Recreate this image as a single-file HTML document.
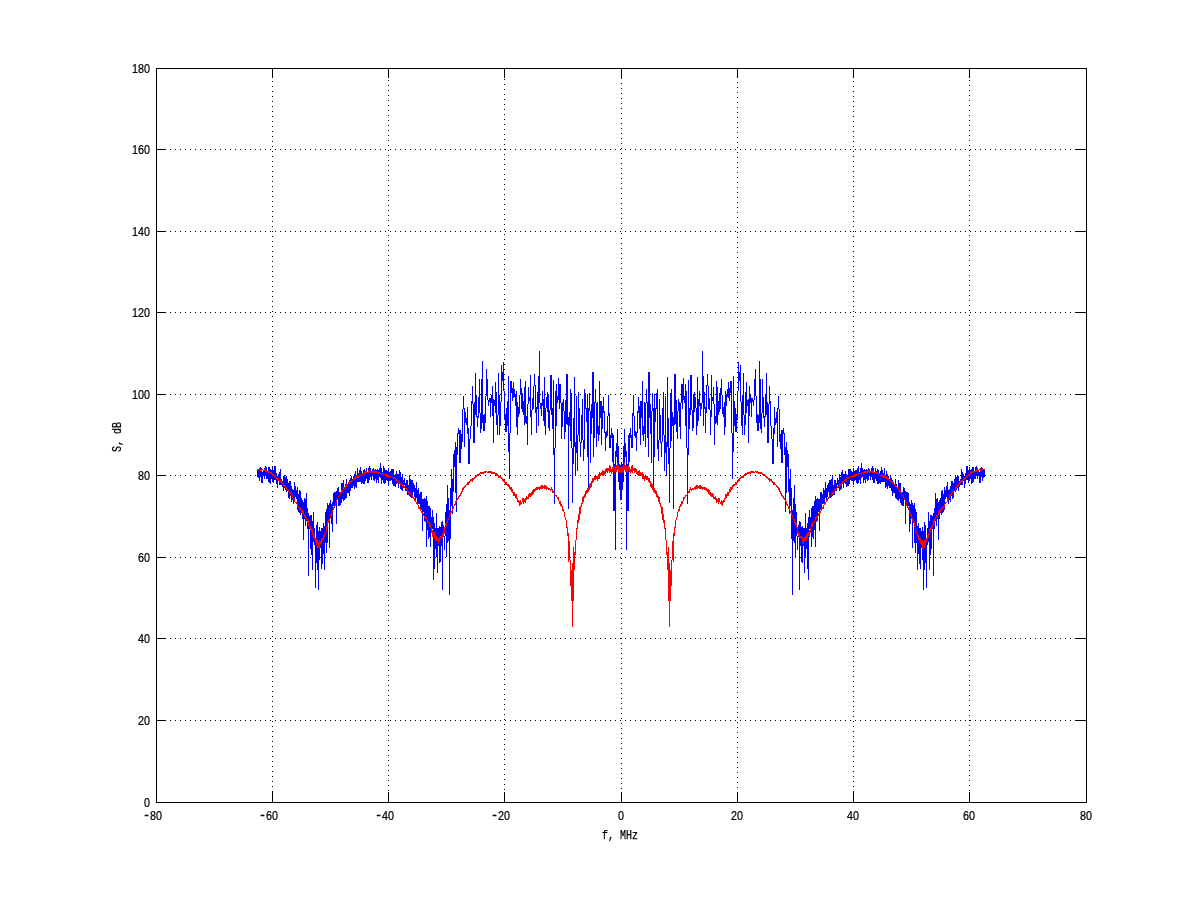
<!DOCTYPE html>
<html lang="en"><head><meta charset="utf-8"><title>Spectrum S, dB vs f, MHz</title>
<style>html,body{margin:0;padding:0;background:#fff}body{width:1200px;height:901px;overflow:hidden}svg{display:block}text{font-family:"Liberation Mono","DejaVu Sans Mono",monospace;font-size:13px;fill:#000;stroke:#000;stroke-width:0.25px}.n{font-family:"Liberation Sans","DejaVu Sans",sans-serif}</style></head><body>
<svg width="1200" height="901" viewBox="0 0 1200 901">
<rect x="0" y="0" width="1200" height="901" fill="#fff"/>
<g stroke="#000" stroke-width="1" shape-rendering="crispEdges" fill="none">
<line x1="272.5" y1="71" x2="272.5" y2="802" stroke-dasharray="1 4"/>
<line x1="388.5" y1="70" x2="388.5" y2="802" stroke-dasharray="1 4"/>
<line x1="504.5" y1="74" x2="504.5" y2="802" stroke-dasharray="1 4"/>
<line x1="621.5" y1="73" x2="621.5" y2="802" stroke-dasharray="1 4"/>
<line x1="737.5" y1="72" x2="737.5" y2="802" stroke-dasharray="1 4"/>
<line x1="853.5" y1="71" x2="853.5" y2="802" stroke-dasharray="1 4"/>
<line x1="969.5" y1="70" x2="969.5" y2="802" stroke-dasharray="1 4"/>
<line x1="160" y1="720.5" x2="1086" y2="720.5" stroke-dasharray="1 4"/>
<line x1="160" y1="638.5" x2="1086" y2="638.5" stroke-dasharray="1 4"/>
<line x1="160" y1="557.5" x2="1086" y2="557.5" stroke-dasharray="1 4"/>
<line x1="160" y1="475.5" x2="1086" y2="475.5" stroke-dasharray="1 4"/>
<line x1="160" y1="394.5" x2="1086" y2="394.5" stroke-dasharray="1 4"/>
<line x1="160" y1="312.5" x2="1086" y2="312.5" stroke-dasharray="1 4"/>
<line x1="160" y1="231.5" x2="1086" y2="231.5" stroke-dasharray="1 4"/>
<line x1="160" y1="149.5" x2="1086" y2="149.5" stroke-dasharray="1 4"/>
</g>
<g fill="none" stroke-width="1" shape-rendering="crispEdges">
<path stroke="#0000ff" d="M257.5 470v7M258.5 470v8M259.5 468v13M260.5 467v10M261.5 468v15M262.5 472v11M263.5 470v6M264.5 468v11M265.5 466v10M266.5 467v12M267.5 472v7M268.5 467v15M269.5 467v16M270.5 469v15M271.5 470v9M272.5 467v14M273.5 470v13M274.5 466v14M275.5 466v14M276.5 473v11M277.5 476v12M278.5 474v7M279.5 472v13M280.5 469v16M281.5 479v6M282.5 481v6M283.5 476v15M284.5 475v13M285.5 477v13M286.5 476v16M287.5 479v12M288.5 483v15M289.5 481v18M290.5 481v15M291.5 486v16M292.5 489v11M293.5 490v14M294.5 482v17M295.5 486v11M296.5 490v9M297.5 487v23M298.5 494v18M299.5 490v23M300.5 491v24M301.5 498v15M302.5 500v19M303.5 502v38M304.5 498v21M305.5 499v27M306.5 493v28M307.5 508v21M308.5 513v63M309.5 516v13M310.5 515v34M311.5 515v40M312.5 521v49M313.5 512v30M314.5 528v17M315.5 540v48M316.5 525v38M317.5 522v48M318.5 531v59M319.5 527v33M320.5 531v17M321.5 528v41M322.5 528v36M323.5 523v31M324.5 526v44M325.5 512v31M326.5 509v44M327.5 503v40M328.5 505v18M329.5 503v45M330.5 500v15M331.5 504v20M332.5 502v30M333.5 493v13M334.5 492v16M335.5 492v14M336.5 491v33M337.5 488v10M338.5 487v19M339.5 492v14M340.5 492v13M341.5 483v20M342.5 483v16M343.5 480v21M344.5 487v13M345.5 484v15M346.5 479v19M347.5 486v7M348.5 482v11M349.5 480v16M350.5 478v13M351.5 476v12M352.5 479v9M353.5 476v10M354.5 474v15M355.5 471v16M356.5 475v13M357.5 468v14M358.5 473v9M359.5 470v12M360.5 467v15M361.5 471v13M362.5 473v10M363.5 470v14M364.5 469v15M365.5 471v10M366.5 468v11M367.5 472v11M368.5 468v15M369.5 466v14M370.5 468v9M371.5 471v9M372.5 469v7M373.5 468v12M374.5 470v11M375.5 469v10M376.5 470v13M377.5 469v11M378.5 470v13M379.5 468v9M380.5 463v15M381.5 468v16M382.5 472v8M383.5 466v17M384.5 468v16M385.5 470v13M386.5 470v10M387.5 471v10M388.5 468v17M389.5 472v9M390.5 471v10M391.5 469v11M392.5 469v15M393.5 469v17M394.5 475v11M395.5 474v13M396.5 471v13M397.5 474v9M398.5 474v14M399.5 470v14M400.5 472v17M401.5 477v13M402.5 474v17M403.5 480v8M404.5 478v7M405.5 483v8M406.5 480v11M407.5 480v15M408.5 485v10M409.5 475v21M410.5 479v18M411.5 480v18M412.5 480v17M413.5 483v9M414.5 485v12M415.5 488v12M416.5 482v16M417.5 490v14M418.5 488v16M419.5 494v10M420.5 492v19M421.5 492v18M422.5 499v32M423.5 499v13M424.5 498v23M425.5 499v23M426.5 496v51M427.5 501v29M428.5 506v33M429.5 506v31M430.5 508v39M431.5 517v14M432.5 510v19M433.5 517v63M434.5 523v46M435.5 528v21M436.5 513v44M437.5 528v45M438.5 528v18M439.5 526v37M440.5 527v35M441.5 522v24M442.5 521v69M443.5 525v12M444.5 536v14M445.5 512v24M446.5 504v53M447.5 485v58M448.5 498v43M449.5 510v85M450.5 488v51M451.5 469v37M452.5 479v35M453.5 454v38M454.5 450v17M455.5 442v51M456.5 447v65M457.5 433v22M458.5 428v6M459.5 430v33M460.5 430v33M461.5 434v15M462.5 409v33M463.5 396v13M464.5 408v39M465.5 412v11M466.5 418v7M467.5 407v27M468.5 428v36M469.5 439v25M470.5 426v13M471.5 401v25M472.5 386v18M473.5 404v39M474.5 402v41M475.5 373v42M476.5 395v22M477.5 416v11M478.5 397v21M479.5 379v34M480.5 413v20M481.5 379v50M482.5 361v62M483.5 415v16M484.5 414v17M485.5 396v27M486.5 369v27M487.5 379v21M488.5 400v6M489.5 398v4M490.5 398v19M491.5 395v8M492.5 386v30M493.5 399v44M494.5 400v6M495.5 382v31M496.5 392v33M497.5 415v20M498.5 373v42M499.5 395v40M500.5 402v24M501.5 365v37M502.5 372v9M503.5 362v29M504.5 391v29M505.5 414v18M506.5 408v24M507.5 401v25M508.5 376v76M509.5 433v46M510.5 381v52M511.5 381v12M512.5 388v13M513.5 382v16M514.5 389v8M515.5 394v12M516.5 391v36M517.5 402v33M518.5 407v10M519.5 395v19M520.5 379v16M521.5 388v21M522.5 393v19M523.5 401v14M524.5 387v38M525.5 381v42M526.5 416v8M527.5 404v41M528.5 387v17M529.5 397v4M530.5 375v42M531.5 410v25M532.5 398v12M533.5 386v23M534.5 374v12M535.5 385v28M536.5 407v26M537.5 392v17M538.5 376v50M539.5 351v52M540.5 403v6M541.5 403v13M542.5 391v15M543.5 399v22M544.5 377v49M545.5 408v27M546.5 397v11M547.5 392v20M548.5 394v34M549.5 410v21M550.5 375v35M551.5 375v40M552.5 408v21M553.5 380v75M554.5 448v56M555.5 391v57M556.5 384v42M557.5 396v7M558.5 378v22M559.5 384v25M560.5 384v19M561.5 403v36M562.5 402v25M563.5 399v12M564.5 411v28M565.5 400v32M566.5 374v50M567.5 374v51M568.5 417v92M569.5 412v14M570.5 389v52M571.5 393v55M572.5 448v55M573.5 418v46M574.5 377v70M575.5 442v34M576.5 396v57M577.5 435v36M578.5 392v43M579.5 408v34M580.5 442v15M581.5 415v28M582.5 399v41M583.5 440v21M584.5 389v60M585.5 393v16M586.5 408v14M587.5 394v63M588.5 408v80M589.5 393v18M590.5 411v52M591.5 404v30M592.5 372v46M593.5 372v85M594.5 402v36M595.5 389v14M596.5 403v44M597.5 402v32M598.5 426v15M599.5 381v54M600.5 401v17M601.5 401v44M602.5 406v23M603.5 397v16M604.5 411v22M605.5 432v19M606.5 431v7M607.5 416v20M608.5 395v21M609.5 413v35M610.5 435v13M611.5 428v10M612.5 433v29M613.5 435v76M614.5 464v47M615.5 451v99M616.5 443v14M617.5 429v36M618.5 446v36M619.5 464v26M620.5 465v35M621.5 462v38M622.5 464v26M623.5 446v36M624.5 429v36M625.5 443v14M626.5 451v99M627.5 464v47M628.5 435v76M629.5 433v29M630.5 428v10M631.5 435v13M632.5 413v35M633.5 395v21M634.5 416v20M635.5 431v7M636.5 432v19M637.5 411v22M638.5 397v16M639.5 406v23M640.5 401v44M641.5 401v17M642.5 381v54M643.5 426v15M644.5 402v32M645.5 403v44M646.5 389v14M647.5 402v36M648.5 372v85M649.5 372v46M650.5 404v30M651.5 411v52M652.5 393v18M653.5 408v80M654.5 394v63M655.5 408v14M656.5 393v16M657.5 389v60M658.5 440v21M659.5 399v41M660.5 415v28M661.5 442v15M662.5 408v34M663.5 392v43M664.5 435v36M665.5 396v57M666.5 442v34M667.5 377v70M668.5 418v46M669.5 448v55M670.5 393v55M671.5 389v52M672.5 412v14M673.5 417v92M674.5 374v51M675.5 374v50M676.5 400v32M677.5 411v28M678.5 399v12M679.5 402v25M680.5 403v36M681.5 384v19M682.5 384v25M683.5 378v22M684.5 396v7M685.5 384v42M686.5 391v57M687.5 448v56M688.5 380v75M689.5 408v21M690.5 375v40M691.5 375v35M692.5 410v21M693.5 394v34M694.5 392v20M695.5 397v11M696.5 408v27M697.5 377v49M698.5 399v22M699.5 391v15M700.5 403v13M701.5 403v6M702.5 351v52M703.5 376v50M704.5 392v17M705.5 407v26M706.5 385v28M707.5 374v12M708.5 386v23M709.5 398v12M710.5 410v25M711.5 375v42M712.5 397v4M713.5 387v17M714.5 404v41M715.5 416v8M716.5 381v42M717.5 387v38M718.5 401v14M719.5 393v19M720.5 388v21M721.5 379v16M722.5 395v19M723.5 407v10M724.5 402v33M725.5 391v36M726.5 394v12M727.5 389v8M728.5 382v16M729.5 388v13M730.5 381v12M731.5 381v52M732.5 433v46M733.5 376v76M734.5 401v25M735.5 408v24M736.5 414v18M737.5 391v29M738.5 362v29M739.5 372v9M740.5 365v37M741.5 402v24M742.5 395v40M743.5 373v42M744.5 415v20M745.5 392v33M746.5 382v31M747.5 400v6M748.5 399v44M749.5 386v30M750.5 395v8M751.5 398v19M752.5 398v4M753.5 400v6M754.5 379v21M755.5 369v27M756.5 396v27M757.5 414v17M758.5 415v16M759.5 361v62M760.5 379v50M761.5 413v20M762.5 379v34M763.5 397v21M764.5 416v11M765.5 395v22M766.5 373v42M767.5 402v41M768.5 404v39M769.5 386v18M770.5 401v25M771.5 426v13M772.5 439v25M773.5 428v36M774.5 407v27M775.5 418v7M776.5 412v11M777.5 408v39M778.5 396v13M779.5 409v33M780.5 434v15M781.5 430v33M782.5 430v33M783.5 428v6M784.5 433v22M785.5 447v65M786.5 442v51M787.5 450v17M788.5 454v38M789.5 479v35M790.5 469v37M791.5 488v51M792.5 510v85M793.5 498v43M794.5 485v58M795.5 504v53M796.5 512v24M797.5 536v14M798.5 525v12M799.5 521v69M800.5 522v24M801.5 527v35M802.5 526v37M803.5 528v18M804.5 528v45M805.5 513v44M806.5 528v21M807.5 523v46M808.5 517v63M809.5 510v19M810.5 517v14M811.5 508v39M812.5 506v31M813.5 506v33M814.5 501v29M815.5 496v51M816.5 499v23M817.5 498v23M818.5 499v13M819.5 499v32M820.5 492v18M821.5 492v19M822.5 494v10M823.5 488v16M824.5 490v14M825.5 482v16M826.5 488v12M827.5 485v12M828.5 483v9M829.5 480v17M830.5 480v18M831.5 479v18M832.5 475v21M833.5 485v10M834.5 480v15M835.5 480v11M836.5 483v8M837.5 478v7M838.5 480v8M839.5 474v17M840.5 477v13M841.5 472v17M842.5 470v14M843.5 474v14M844.5 474v9M845.5 471v13M846.5 474v13M847.5 475v11M848.5 469v17M849.5 469v15M850.5 469v11M851.5 471v10M852.5 472v9M853.5 468v17M854.5 471v10M855.5 470v10M856.5 470v13M857.5 468v16M858.5 466v17M859.5 472v8M860.5 468v16M861.5 463v15M862.5 468v9M863.5 470v13M864.5 469v11M865.5 470v13M866.5 469v10M867.5 470v11M868.5 468v12M869.5 469v7M870.5 471v9M871.5 468v9M872.5 466v14M873.5 468v15M874.5 472v11M875.5 468v11M876.5 471v10M877.5 469v15M878.5 470v14M879.5 473v10M880.5 471v13M881.5 467v15M882.5 470v12M883.5 473v9M884.5 468v14M885.5 475v13M886.5 471v16M887.5 474v15M888.5 476v10M889.5 479v9M890.5 476v12M891.5 478v13M892.5 480v16M893.5 482v11M894.5 486v7M895.5 479v19M896.5 484v15M897.5 487v13M898.5 480v21M899.5 483v16M900.5 483v20M901.5 492v13M902.5 492v14M903.5 487v19M904.5 488v10M905.5 491v33M906.5 492v14M907.5 492v16M908.5 493v13M909.5 502v30M910.5 504v20M911.5 500v15M912.5 503v45M913.5 505v18M914.5 503v40M915.5 509v44M916.5 512v31M917.5 526v44M918.5 523v31M919.5 528v36M920.5 528v41M921.5 531v17M922.5 527v33M923.5 531v59M924.5 522v48M925.5 525v38M926.5 540v48M927.5 528v17M928.5 512v30M929.5 521v49M930.5 515v40M931.5 515v34M932.5 516v13M933.5 513v63M934.5 508v21M935.5 493v28M936.5 499v27M937.5 498v21M938.5 502v38M939.5 500v19M940.5 498v15M941.5 491v24M942.5 490v23M943.5 494v18M944.5 487v23M945.5 490v9M946.5 486v11M947.5 482v17M948.5 490v14M949.5 489v11M950.5 486v16M951.5 481v15M952.5 481v18M953.5 483v15M954.5 479v12M955.5 476v16M956.5 477v13M957.5 475v13M958.5 476v15M959.5 481v6M960.5 479v6M961.5 469v16M962.5 472v13M963.5 474v7M964.5 476v12M965.5 473v11M966.5 466v14M967.5 466v14M968.5 470v13M969.5 467v14M970.5 470v9M971.5 469v15M972.5 467v16M973.5 467v15M974.5 472v7M975.5 467v12M976.5 466v10M977.5 468v11M978.5 470v6M979.5 472v11M980.5 468v15M981.5 467v10M982.5 468v13M983.5 470v8M984.5 470v7"/>
<path stroke="#ff0000" d="M257.5 469v1M258.5 469v1M259.5 468v2M260.5 469v2M261.5 469v2M262.5 469v1M263.5 470v1M264.5 469v2M265.5 469v3M266.5 470v2M267.5 471v1M268.5 471v2M269.5 471v2M270.5 472v2M271.5 472v2M272.5 474v2M273.5 474v2M274.5 475v2M275.5 476v2M276.5 477v2M277.5 478v2M278.5 478v3M279.5 480v2M280.5 480v2M281.5 481v2M282.5 482v2M283.5 483v3M284.5 485v2M285.5 485v3M286.5 487v3M287.5 489v1M288.5 490v2M289.5 491v2M290.5 492v3M291.5 494v2M292.5 495v3M293.5 498v2M294.5 499v3M295.5 502v1M296.5 502v2M297.5 504v3M298.5 506v2M299.5 507v3M300.5 508v2M301.5 509v3M302.5 509v5M303.5 511v4M304.5 515v2M305.5 515v3M306.5 517v3M307.5 519v4M308.5 520v6M309.5 524v4M310.5 526v4M311.5 528v4M312.5 529v6M313.5 533v5M314.5 535v5M315.5 538v4M316.5 539v6M317.5 540v8M318.5 542v6M319.5 540v9M320.5 541v4M321.5 538v6M322.5 538v3M323.5 535v5M324.5 533v4M325.5 531v3M326.5 526v6M327.5 521v6M328.5 520v3M329.5 518v3M330.5 514v5M331.5 513v3M332.5 510v3M333.5 507v3M334.5 506v1M335.5 502v4M336.5 500v2M337.5 498v2M338.5 496v2M339.5 495v1M340.5 492v3M341.5 490v3M342.5 490v2M343.5 487v3M344.5 487v2M345.5 486v2M346.5 484v3M347.5 484v2M348.5 482v2M349.5 482v2M350.5 481v2M351.5 480v2M352.5 480v1M353.5 478v2M354.5 477v3M355.5 476v3M356.5 476v2M357.5 475v3M358.5 476v2M359.5 475v2M360.5 474v2M361.5 475v1M362.5 473v2M363.5 473v1M364.5 472v2M365.5 472v2M366.5 471v2M367.5 472v1M368.5 470v3M369.5 471v2M370.5 471v1M371.5 471v2M372.5 471v2M373.5 470v2M374.5 471v2M375.5 471v2M376.5 471v2M377.5 471v2M378.5 472v2M379.5 472v1M380.5 473v1M381.5 473v1M382.5 473v1M383.5 473v2M384.5 474v1M385.5 474v2M386.5 474v3M387.5 474v3M388.5 475v3M389.5 476v1M390.5 476v2M391.5 476v1M392.5 477v1M393.5 477v2M394.5 477v2M395.5 478v3M396.5 479v3M397.5 480v1M398.5 481v2M399.5 481v3M400.5 483v2M401.5 484v2M402.5 484v3M403.5 486v1M404.5 486v2M405.5 488v1M406.5 488v2M407.5 489v2M408.5 491v3M409.5 492v3M410.5 493v2M411.5 495v1M412.5 495v3M413.5 497v2M414.5 498v3M415.5 500v2M416.5 502v2M417.5 503v2M418.5 505v4M419.5 507v2M420.5 508v3M421.5 511v2M422.5 512v2M423.5 513v3M424.5 516v2M425.5 516v3M426.5 517v3M427.5 520v3M428.5 522v1M429.5 522v5M430.5 524v3M431.5 527v6M432.5 530v7M433.5 532v4M434.5 532v7M435.5 534v7M436.5 536v5M437.5 537v4M438.5 538v6M439.5 537v5M440.5 536v3M441.5 536v2M442.5 533v5M443.5 531v5M444.5 527v7M445.5 523v5M446.5 522v4M447.5 519v4M448.5 518v2M449.5 515v3M450.5 512v4M451.5 511v2M452.5 508v3M453.5 506v3M454.5 504v2M455.5 501v4M456.5 500v2M457.5 498v2M458.5 496v3M459.5 495v2M460.5 493v3M461.5 491v3M462.5 488v4M463.5 487v3M464.5 486v2M465.5 485v2M466.5 484v1M467.5 482v3M468.5 482v3M469.5 481v2M470.5 479v3M471.5 479v2M472.5 478v4M473.5 478v2M474.5 477v2M475.5 476v2M476.5 475v2M477.5 474v2M478.5 474v2M479.5 473v2M480.5 472v2M481.5 472v2M482.5 472v2M483.5 472v2M484.5 471v2M485.5 471v2M486.5 471v1M487.5 472v1M488.5 471v2M489.5 471v2M490.5 471v2M491.5 471v3M492.5 472v2M493.5 472v2M494.5 472v2M495.5 473v2M496.5 473v3M497.5 474v2M498.5 475v3M499.5 476v2M500.5 476v2M501.5 477v2M502.5 478v3M503.5 479v3M504.5 480v3M505.5 482v3M506.5 482v3M507.5 484v2M508.5 484v3M509.5 485v4M510.5 487v3M511.5 487v5M512.5 489v4M513.5 492v4M514.5 492v4M515.5 494v4M516.5 494v5M517.5 498v4M518.5 500v3M519.5 501v5M520.5 500v5M521.5 502v2M522.5 498v4M523.5 498v6M524.5 499v3M525.5 498v5M526.5 496v4M527.5 497v2M528.5 494v5M529.5 493v4M530.5 493v4M531.5 492v4M532.5 490v5M533.5 489v5M534.5 489v3M535.5 488v3M536.5 487v3M537.5 487v3M538.5 487v2M539.5 487v3M540.5 486v3M541.5 485v4M542.5 485v4M543.5 486v2M544.5 485v4M545.5 485v4M546.5 486v4M547.5 487v2M548.5 488v2M549.5 488v2M550.5 489v2M551.5 487v3M552.5 489v4M553.5 491v2M554.5 493v2M555.5 495v1M556.5 495v2M557.5 497v2M558.5 497v4M559.5 501v3M560.5 501v5M561.5 504v3M562.5 506v5M563.5 509v3M564.5 512v5M565.5 517v3M566.5 520v8M567.5 527v9M568.5 533v29M569.5 541v19M570.5 560v26M571.5 570v31M572.5 563v64M573.5 547v54M574.5 552v18M575.5 540v15M576.5 528v12M577.5 520v9M578.5 514v9M579.5 507v13M580.5 506v8M581.5 503v4M582.5 497v7M583.5 496v6M584.5 494v4M585.5 491v6M586.5 490v4M587.5 488v5M588.5 488v4M589.5 484v6M590.5 483v5M591.5 481v6M592.5 478v5M593.5 478v4M594.5 476v4M595.5 476v4M596.5 476v3M597.5 476v5M598.5 474v5M599.5 472v7M600.5 473v3M601.5 472v3M602.5 470v6M603.5 471v5M604.5 471v4M605.5 469v5M606.5 468v4M607.5 468v5M608.5 468v3M609.5 465v8M610.5 466v6M611.5 469v5M612.5 467v5M613.5 465v6M614.5 467v6M615.5 466v6M616.5 465v7M617.5 463v7M618.5 465v8M619.5 467v5M620.5 467v6M621.5 467v6M622.5 467v5M623.5 465v8M624.5 463v7M625.5 465v7M626.5 466v6M627.5 467v6M628.5 465v6M629.5 467v5M630.5 469v5M631.5 466v6M632.5 465v8M633.5 468v3M634.5 468v5M635.5 468v4M636.5 469v5M637.5 471v4M638.5 471v5M639.5 470v6M640.5 472v3M641.5 473v3M642.5 472v7M643.5 474v5M644.5 476v5M645.5 476v3M646.5 476v4M647.5 476v4M648.5 478v4M649.5 478v5M650.5 481v6M651.5 483v5M652.5 484v6M653.5 488v4M654.5 488v5M655.5 490v4M656.5 491v6M657.5 494v4M658.5 496v6M659.5 497v7M660.5 503v4M661.5 506v8M662.5 507v13M663.5 514v9M664.5 520v9M665.5 528v12M666.5 540v15M667.5 552v18M668.5 547v54M669.5 563v64M670.5 570v31M671.5 560v26M672.5 541v19M673.5 533v29M674.5 527v9M675.5 520v8M676.5 517v3M677.5 512v5M678.5 509v3M679.5 506v5M680.5 504v3M681.5 501v5M682.5 501v3M683.5 497v4M684.5 497v2M685.5 495v2M686.5 495v1M687.5 493v2M688.5 491v2M689.5 489v4M690.5 487v3M691.5 489v2M692.5 488v2M693.5 488v2M694.5 487v2M695.5 486v4M696.5 485v4M697.5 485v4M698.5 486v2M699.5 485v4M700.5 485v4M701.5 486v3M702.5 487v3M703.5 487v2M704.5 487v3M705.5 487v3M706.5 488v3M707.5 489v3M708.5 489v5M709.5 490v5M710.5 492v4M711.5 493v4M712.5 493v4M713.5 494v5M714.5 497v2M715.5 496v4M716.5 498v5M717.5 499v3M718.5 498v6M719.5 498v4M720.5 502v2M721.5 500v5M722.5 501v5M723.5 500v3M724.5 498v4M725.5 494v5M726.5 494v4M727.5 492v4M728.5 492v4M729.5 489v4M730.5 487v5M731.5 487v3M732.5 485v4M733.5 484v3M734.5 484v2M735.5 482v3M736.5 482v3M737.5 480v3M738.5 479v3M739.5 478v3M740.5 477v2M741.5 476v2M742.5 476v2M743.5 475v3M744.5 474v2M745.5 473v3M746.5 473v2M747.5 472v2M748.5 472v2M749.5 472v2M750.5 471v3M751.5 471v2M752.5 471v2M753.5 471v2M754.5 472v1M755.5 471v1M756.5 471v2M757.5 471v2M758.5 472v2M759.5 472v2M760.5 472v2M761.5 472v2M762.5 473v2M763.5 474v2M764.5 474v2M765.5 475v2M766.5 476v2M767.5 477v2M768.5 478v2M769.5 478v4M770.5 479v2M771.5 479v3M772.5 481v2M773.5 482v3M774.5 482v3M775.5 484v1M776.5 485v2M777.5 486v2M778.5 487v3M779.5 488v4M780.5 491v3M781.5 493v3M782.5 495v2M783.5 496v3M784.5 498v2M785.5 500v2M786.5 501v4M787.5 504v2M788.5 506v3M789.5 508v3M790.5 511v2M791.5 512v4M792.5 515v3M793.5 518v2M794.5 519v4M795.5 522v4M796.5 523v5M797.5 527v7M798.5 531v5M799.5 533v5M800.5 536v2M801.5 536v3M802.5 537v5M803.5 538v6M804.5 537v4M805.5 536v5M806.5 534v7M807.5 532v7M808.5 532v4M809.5 530v7M810.5 527v6M811.5 524v3M812.5 522v5M813.5 522v1M814.5 520v3M815.5 517v3M816.5 516v3M817.5 516v2M818.5 513v3M819.5 512v2M820.5 511v2M821.5 508v3M822.5 507v2M823.5 505v4M824.5 503v2M825.5 502v2M826.5 500v2M827.5 498v3M828.5 497v2M829.5 495v3M830.5 495v1M831.5 493v2M832.5 492v3M833.5 491v3M834.5 489v2M835.5 488v2M836.5 488v1M837.5 486v2M838.5 486v1M839.5 484v3M840.5 484v2M841.5 483v2M842.5 481v3M843.5 481v2M844.5 480v1M845.5 479v3M846.5 478v3M847.5 477v2M848.5 477v2M849.5 477v1M850.5 476v1M851.5 476v2M852.5 476v1M853.5 475v3M854.5 474v3M855.5 474v3M856.5 474v2M857.5 474v1M858.5 473v2M859.5 473v1M860.5 473v1M861.5 473v1M862.5 472v1M863.5 472v2M864.5 471v2M865.5 471v2M866.5 471v2M867.5 471v2M868.5 470v2M869.5 471v2M870.5 471v2M871.5 471v1M872.5 471v2M873.5 470v3M874.5 472v1M875.5 471v2M876.5 472v2M877.5 472v2M878.5 473v1M879.5 473v2M880.5 475v1M881.5 474v2M882.5 475v2M883.5 476v2M884.5 475v3M885.5 476v2M886.5 476v3M887.5 477v3M888.5 478v2M889.5 480v1M890.5 480v2M891.5 481v2M892.5 482v2M893.5 482v2M894.5 484v2M895.5 484v3M896.5 486v2M897.5 487v2M898.5 487v3M899.5 490v2M900.5 490v3M901.5 492v3M902.5 495v1M903.5 496v2M904.5 498v2M905.5 500v2M906.5 502v4M907.5 506v1M908.5 507v3M909.5 510v3M910.5 513v3M911.5 514v5M912.5 518v3M913.5 520v3M914.5 521v6M915.5 526v6M916.5 531v3M917.5 533v4M918.5 535v5M919.5 538v3M920.5 538v6M921.5 541v4M922.5 540v9M923.5 542v6M924.5 540v8M925.5 539v6M926.5 538v4M927.5 535v5M928.5 533v5M929.5 529v6M930.5 528v4M931.5 526v4M932.5 524v4M933.5 520v6M934.5 519v4M935.5 517v3M936.5 515v3M937.5 515v2M938.5 511v4M939.5 509v5M940.5 509v3M941.5 508v2M942.5 507v3M943.5 506v2M944.5 504v3M945.5 502v2M946.5 502v1M947.5 499v3M948.5 498v2M949.5 495v3M950.5 494v2M951.5 492v3M952.5 491v2M953.5 490v2M954.5 489v1M955.5 487v3M956.5 485v3M957.5 485v2M958.5 483v3M959.5 482v2M960.5 481v2M961.5 480v2M962.5 480v2M963.5 478v3M964.5 478v2M965.5 477v2M966.5 476v2M967.5 475v2M968.5 474v2M969.5 474v2M970.5 472v2M971.5 472v2M972.5 471v2M973.5 471v2M974.5 471v1M975.5 470v2M976.5 469v3M977.5 469v2M978.5 470v1M979.5 469v1M980.5 469v2M981.5 469v2M982.5 468v2M983.5 469v1M984.5 469v1"/>
</g>
<g stroke="#000" stroke-width="1" shape-rendering="crispEdges" fill="none">
<rect x="156.5" y="68.5" width="930" height="734"/>
<line x1="272.5" y1="792" x2="272.5" y2="802"/>
<line x1="272.5" y1="69" x2="272.5" y2="78"/>
<line x1="388.5" y1="792" x2="388.5" y2="802"/>
<line x1="388.5" y1="69" x2="388.5" y2="78"/>
<line x1="504.5" y1="792" x2="504.5" y2="802"/>
<line x1="504.5" y1="69" x2="504.5" y2="78"/>
<line x1="621.5" y1="792" x2="621.5" y2="802"/>
<line x1="621.5" y1="69" x2="621.5" y2="78"/>
<line x1="737.5" y1="792" x2="737.5" y2="802"/>
<line x1="737.5" y1="69" x2="737.5" y2="78"/>
<line x1="853.5" y1="792" x2="853.5" y2="802"/>
<line x1="853.5" y1="69" x2="853.5" y2="78"/>
<line x1="969.5" y1="792" x2="969.5" y2="802"/>
<line x1="969.5" y1="69" x2="969.5" y2="78"/>
<line x1="157" y1="720.5" x2="166" y2="720.5"/>
<line x1="1076" y1="720.5" x2="1086" y2="720.5"/>
<line x1="157" y1="638.5" x2="166" y2="638.5"/>
<line x1="1076" y1="638.5" x2="1086" y2="638.5"/>
<line x1="157" y1="557.5" x2="166" y2="557.5"/>
<line x1="1076" y1="557.5" x2="1086" y2="557.5"/>
<line x1="157" y1="475.5" x2="166" y2="475.5"/>
<line x1="1076" y1="475.5" x2="1086" y2="475.5"/>
<line x1="157" y1="394.5" x2="166" y2="394.5"/>
<line x1="1076" y1="394.5" x2="1086" y2="394.5"/>
<line x1="157" y1="312.5" x2="166" y2="312.5"/>
<line x1="1076" y1="312.5" x2="1086" y2="312.5"/>
<line x1="157" y1="231.5" x2="166" y2="231.5"/>
<line x1="1076" y1="231.5" x2="1086" y2="231.5"/>
<line x1="157" y1="149.5" x2="166" y2="149.5"/>
<line x1="1076" y1="149.5" x2="1086" y2="149.5"/>
</g>
<g>
<text class="n" transform="translate(144 820) scale(0.8298 1)" y="0"><tspan font-size="17" x="0.3">-</tspan><tspan x="7.23 14.46">80</tspan></text>
<text class="n" transform="translate(260 820) scale(0.8298 1)" y="0"><tspan font-size="17" x="0.3">-</tspan><tspan x="7.23 14.46">60</tspan></text>
<text class="n" transform="translate(376 820) scale(0.8298 1)" y="0"><tspan font-size="17" x="0.3">-</tspan><tspan x="7.23 14.46">40</tspan></text>
<text class="n" transform="translate(492 820) scale(0.8298 1)" y="0"><tspan font-size="17" x="0.3">-</tspan><tspan x="7.23 14.46">20</tspan></text>
<text class="n" transform="translate(618 820) scale(0.8298 1)" x="0.00" y="0">0</text>
<text class="n" transform="translate(731 820) scale(0.8298 1)" x="0.00 7.23" y="0">20</text>
<text class="n" transform="translate(847 820) scale(0.8298 1)" x="0.00 7.23" y="0">40</text>
<text class="n" transform="translate(963 820) scale(0.8298 1)" x="0.00 7.23" y="0">60</text>
<text class="n" transform="translate(1080 820) scale(0.8298 1)" x="0.00 7.23" y="0">80</text>
<text class="n" transform="translate(144 807) scale(0.8298 1)" x="0.00" y="0">0</text>
<text class="n" transform="translate(138 725) scale(0.8298 1)" x="0.00 7.23" y="0">20</text>
<text class="n" transform="translate(138 643) scale(0.8298 1)" x="0.00 7.23" y="0">40</text>
<text class="n" transform="translate(138 562) scale(0.8298 1)" x="0.00 7.23" y="0">60</text>
<text class="n" transform="translate(138 480) scale(0.8298 1)" x="0.00 7.23" y="0">80</text>
<text class="n" transform="translate(132 399) scale(0.8298 1)" x="0.00 7.23 14.46" y="0">100</text>
<text class="n" transform="translate(132 317) scale(0.8298 1)" x="0.00 7.23 14.46" y="0">120</text>
<text class="n" transform="translate(132 236) scale(0.8298 1)" x="0.00 7.23 14.46" y="0">140</text>
<text class="n" transform="translate(132 154) scale(0.8298 1)" x="0.00 7.23 14.46" y="0">160</text>
<text class="n" transform="translate(132 73) scale(0.8298 1)" x="0.00 7.23 14.46" y="0">180</text>
<text x="602" y="839" textLength="36" lengthAdjust="spacingAndGlyphs" xml:space="preserve">f, MHz</text>
<text transform="translate(121 452) rotate(-90)" x="0" y="0" textLength="30" lengthAdjust="spacingAndGlyphs" xml:space="preserve">S, dB</text>
</g>
</svg></body></html>
